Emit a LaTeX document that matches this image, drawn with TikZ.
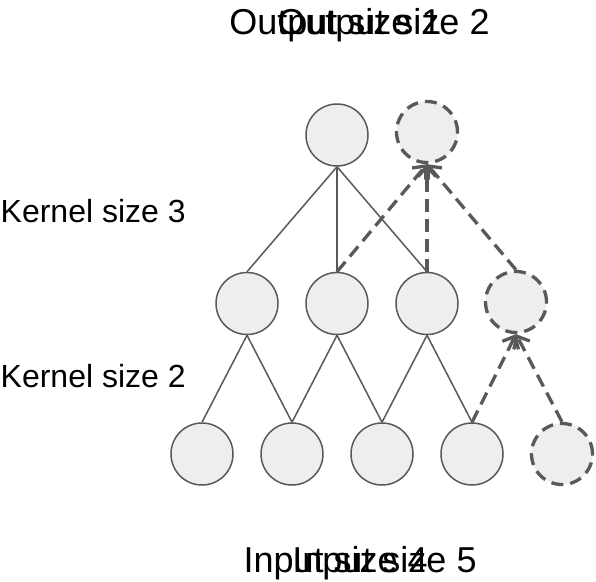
\documentclass[tikz,border=0pt]{standalone}
\usepackage{fontspec}
\setmainfont{Liberation Sans}
\usetikzlibrary{arrows.meta}
\definecolor{edgegray}{HTML}{595959}
\definecolor{cellfill}{HTML}{EEEEEE}
\begin{document}
\begin{tikzpicture}[x=1pt,y=-1pt,
  cell/.style={circle,draw=edgegray,fill=cellfill,line width=1.5pt,minimum size=62pt,inner sep=0pt},
  padcell/.style={circle,draw=edgegray,fill=cellfill,line width=3.3pt,dash pattern=on 12pt off 7pt,minimum size=61pt,inner sep=0pt},
  link/.style={draw=edgegray,line width=1.5pt},
  padlink/.style={draw=edgegray,line width=3.3pt,dash pattern=on 13pt off 7pt,-{Straight Barb[length=10pt,width=18pt,line width=3.3pt]}},
  title/.style={font=\fontsize{36}{40}\selectfont,anchor=base,inner sep=0pt},
  label/.style={font=\fontsize{32}{36}\selectfont,anchor=base west,inner sep=0pt}]
\useasboundingbox[fill=white] (0,0) rectangle (596,581);

% output layer
\node[cell] (o1) at (337,135) {};
\node[padcell] (o2) at (427,132) {};

% hidden layer
\node[cell] (h1) at (247,303.5) {};
\node[cell] (h2) at (337,303.5) {};
\node[cell] (h3) at (427,303.5) {};
\node[padcell] (h4) at (516,302) {};

% input layer
\node[cell] (i1) at (202,454) {};
\node[cell] (i2) at (292,454) {};
\node[cell] (i3) at (382,454) {};
\node[cell] (i4) at (472,454) {};
\node[padcell] (i5) at (562,454) {};

% solid connections
\foreach \h in {h1,h2,h3} \draw[link] (o1.south) -- (\h.north);
\draw[link] (h1.south) -- (i1.north);
\draw[link] (h1.south) -- (i2.north);
\draw[link] (h2.south) -- (i2.north);
\draw[link] (h2.south) -- (i3.north);
\draw[link] (h3.south) -- (i3.north);
\draw[link] (h3.south) -- (i4.north);

% dashed connections with arrow heads
\foreach \h in {h2,h3,h4} \draw[padlink] (\h.north) -- (o2.south);
\draw[padlink] (i4.north) -- (h4.south);
\draw[padlink] (i5.north) -- (h4.south);

% labels
\node[title] (out1) at (335.4,34) {Output size 1};
\node[title] (out2) at (383.5,34) {Output size 2};
\node[title] (in1) at (335.7,572) {Input size 4};
\node[title] (in2) at (384.5,572) {Input size 5};
\node[label] (k3) at (0.5,222) {Kernel size 3};
\node[label] (k2) at (0.5,387) {Kernel size 2};
\end{tikzpicture}
\end{document}
